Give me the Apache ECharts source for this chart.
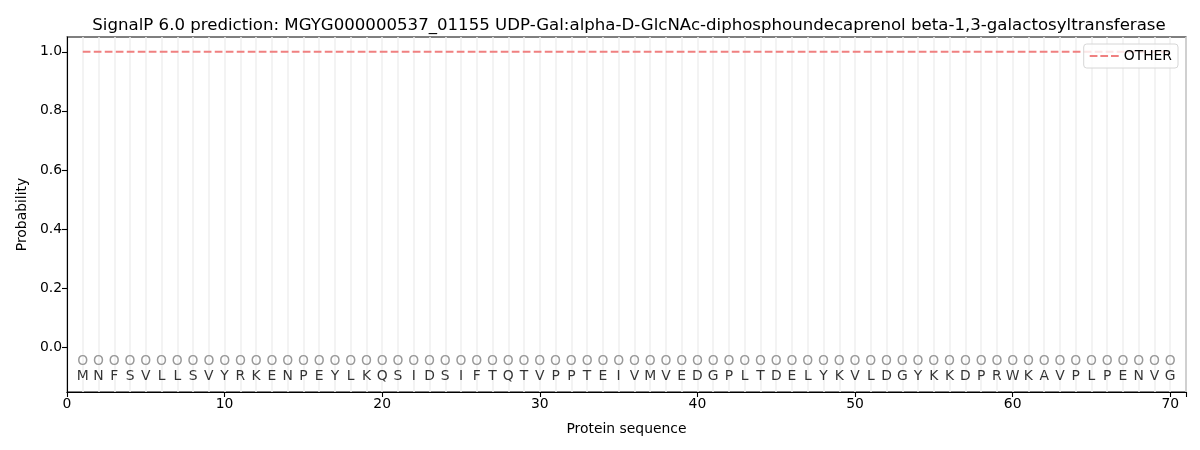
<!DOCTYPE html>
<html><head><meta charset="utf-8">
<script src="https://cdn.jsdelivr.net/npm/echarts@6/dist/echarts.min.js"></script>
<style>html,body{margin:0;padding:0;background:#fff}#c{width:1200px;height:450px}</style>
</head><body><div id="c"></div>
<script>
const titleText = "SignalP 6.0 prediction: MGYG000000537_01155 UDP-Gal:alpha-D-GlcNAc-diphosphoundecaprenol beta-1,3-galactosyltransferase";
const residues = "MNFSVLLSVYRKENPEYLKQSIDSIFTQTVPPTEIVMVEDGPLTDELYKVLDGYKKDPRWKAVPLPENVG".split("");
const predictedLabels = "OOOOOOOOOOOOOOOOOOOOOOOOOOOOOOOOOOOOOOOOOOOOOOOOOOOOOOOOOOOOOOOOOOOOOO".split("");
const otherProb = [1,1,1,1,1,1,1,1,1,1, 1,1,1,1,1,1,1,1,1,1, 1,1,1,1,1,1,1,1,1,1, 1,1,1,1,1,1,1,1,1,1, 1,1,1,1,1,1,1,1,1,1, 1,1,1,1,1,1,1,1,1,1, 1,1,1,1,1,1,1,1,1,1];
const yTicks = [0, 0.2, 0.4, 0.6, 0.8, 1.0];
const xTicks = [0, 10, 20, 30, 40, 50, 60, 70];

const positions = residues.map((r, i) => i + 1);
const font = "DejaVu Sans";
const fs = 13.9;

const chart = echarts.init(document.getElementById('c'), null, {renderer: 'canvas'});
chart.setOption({
  animation: false,
  title: {
    text: titleText, left: 624, top: 12, textAlign: 'center',
    textStyle: {fontFamily: font, fontSize: 16.6, fontWeight: 'normal', color: '#000'}
  },
  legend: {
    right: 22, top: 44, orient: 'vertical', z: 10,
    data: [{name: 'OTHER', icon: 'path://M0,0h8v2h-8z M11,0h8v2h-8z M22,0h8v2h-8z'}],
    itemWidth: 29, itemHeight: 2, itemGap: 4,
    padding: [5, 6, 5, 6],
    backgroundColor: 'rgba(255,255,255,0.8)',
    borderColor: '#d6d6d6', borderWidth: 1, borderRadius: 3,
    textStyle: {fontFamily: font, fontSize: fs, color: '#000'}
  },
  grid: {left: 67, right: 14, top: 37, bottom: 58, containLabel: false, show: true, borderColor: '#000', borderWidth: 1.1},
  xAxis: [{
    type: 'value', min: 0, max: 71, interval: 10,
    name: 'Protein sequence', nameLocation: 'middle', nameGap: 30,
    nameTextStyle: {fontFamily: font, fontSize: fs, color: '#000'},
    axisLine: {show: true, onZero: false, lineStyle: {color: '#000', width: 1.1}},
    axisTick: {show: true, length: 5, lineStyle: {color: '#000', width: 1.1}},
    axisLabel: {fontFamily: font, fontSize: fs, color: '#000', margin: 5,
      customValues: xTicks},
    splitLine: {show: false}
  }, {
    type: 'value', min: 0, max: 71, interval: 1, position: 'bottom',
    axisLine: {show: false}, axisTick: {show: false}, axisLabel: {show: false},
    splitLine: {show: true, lineStyle: {color: '#efefef', width: 1.5}}
  }],
  yAxis: {
    type: 'value', min: -0.152, max: 1.05,
    name: 'Probability', nameLocation: 'middle', nameGap: 38,
    nameTextStyle: {fontFamily: font, fontSize: fs, color: '#000'},
    axisLine: {show: true, onZero: false, lineStyle: {color: '#000', width: 1.1}},
    axisTick: {show: true, length: 5, lineStyle: {color: '#000', width: 1.1}, customValues: yTicks},
    axisLabel: {fontFamily: font, fontSize: fs, color: '#000', margin: 5,
      customValues: yTicks, formatter: v => v.toFixed(1)},
    splitLine: {show: false}
  },
  series: [{
    name: 'OTHER', type: 'line', xAxisIndex: 0,
    data: positions.map((p, i) => [p, otherProb[i]]),
    symbol: 'none', showSymbol: false,
    lineStyle: {color: '#f08080', width: 2, type: [7.7, 3.3]},
    itemStyle: {color: '#f08080'},
    z: 2
  }, {
    name: 'labels', type: 'scatter', xAxisIndex: 0,
    data: positions.map((p, i) => ({value: [p, -0.05], lab: predictedLabels[i]})),
    symbolSize: 0,
    label: {show: true, position: 'inside', formatter: p => p.data.lab,
      fontFamily: font, fontSize: fs, color: '#808080'},
    silent: true
  }, {
    name: 'residues', type: 'scatter', xAxisIndex: 0,
    data: positions.map((p, i) => ({value: [p, -0.1], res: residues[i]})),
    symbolSize: 0,
    label: {show: true, position: 'inside', formatter: p => p.data.res,
      fontFamily: font, fontSize: fs, color: '#000'},
    silent: true
  }]
});
</script></body></html>
